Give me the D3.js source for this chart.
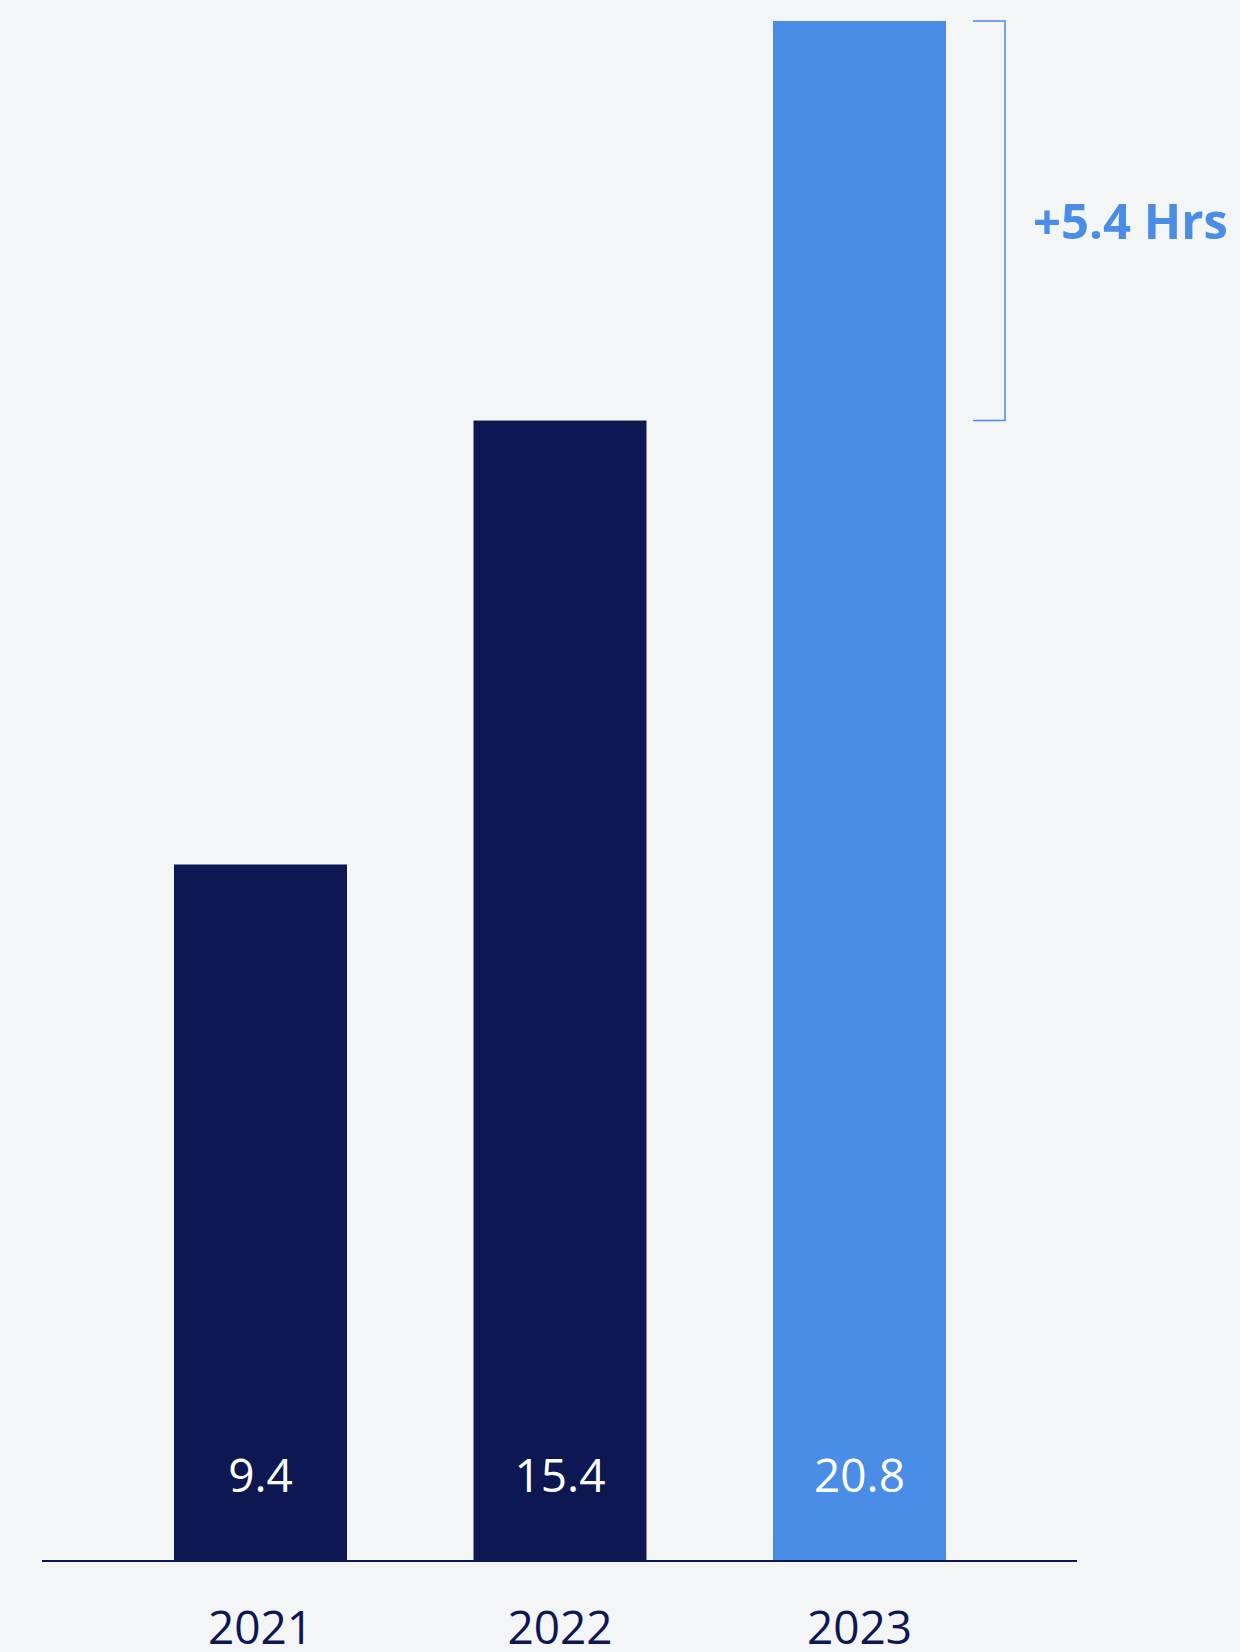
<!DOCTYPE html>
<html>
<head>
<meta charset="utf-8">
<script src="https://cdn.jsdelivr.net/npm/d3@7"></script>
<style>
  html, body { margin: 0; padding: 0; background: #f4f5f7; }
  svg { display: block; }
  text { font-family: "Open Sans", "Noto Sans", sans-serif; }
</style>
</head>
<body>
<div id="chart"></div>
<script>
var years = ["2021", "2022", "2023"];
var hours = [9.4, 15.4, 20.8];
var barColors = ["#0d1752", "#0d1752", "#4a8de6"];

var width = 1240, height = 1652;
var navy = "#0d1752", blue = "#4a8de6";

var svg = d3.select("#chart").append("svg")
    .attr("width", width)
    .attr("height", height);

var x = d3.scaleBand()
    .domain(years)
    .range([110.75, 1009.25])
    .paddingInner(0.4224)
    .paddingOuter(0.2112);

var y = d3.scaleLinear()
    .domain([0, d3.max(hours)])
    .range([1560, 21]);

var data = years.map(function(d, i) {
    return { year: d, value: hours[i], color: barColors[i] };
});

// bars
svg.selectAll("rect.bar")
    .data(data)
    .enter().append("rect")
    .attr("class", "bar")
    .attr("x", function(d) { return x(d.year); })
    .attr("y", function(d) { return y(d.value); })
    .attr("width", x.bandwidth())
    .attr("height", function(d) { return y(0) - y(d.value); })
    .attr("fill", function(d) { return d.color; });

// value labels inside bottom of bars
svg.selectAll("text.value")
    .data(data)
    .enter().append("text")
    .attr("class", "value")
    .attr("x", function(d) { return x(d.year) + x.bandwidth() / 2; })
    .attr("y", y(0) - 68)
    .attr("text-anchor", "middle")
    .attr("fill", "#ffffff")
    .style("font-size", "46px")
    .text(function(d) { return d.value.toFixed(1); });

// baseline
svg.append("line")
    .attr("x1", 42)
    .attr("x2", 1077)
    .attr("y1", y(0) + 1)
    .attr("y2", y(0) + 1)
    .attr("stroke", navy)
    .attr("stroke-width", 2);

// year labels
var xAxis = svg.append("g")
    .attr("transform", "translate(0," + y(0) + ")")
    .call(d3.axisBottom(x).tickSize(0).tickPadding(51));

xAxis.select(".domain").remove();
xAxis.selectAll("text")
    .attr("fill", navy)
    .style("font-family", "'Open Sans', 'Noto Sans', sans-serif")
    .style("font-size", "46px");

// bracket showing the change between last two years
var last = hours[hours.length - 1], prev = hours[hours.length - 2];
var bx0 = 973, bx1 = 1005;
svg.append("path")
    .attr("d", "M" + bx0 + "," + y(last) + "H" + bx1 + "V" + y(prev) + "H" + bx0)
    .attr("fill", "none")
    .attr("stroke", blue)
    .attr("stroke-width", 1.5);

svg.append("text")
    .attr("x", 1033)
    .attr("y", (y(last) + y(prev)) / 2 + 18)
    .attr("fill", blue)
    .style("font-size", "49px")
    .style("font-weight", "700")
    .text("+" + (last - prev).toFixed(1) + " Hrs");
</script>
</body>
</html>
